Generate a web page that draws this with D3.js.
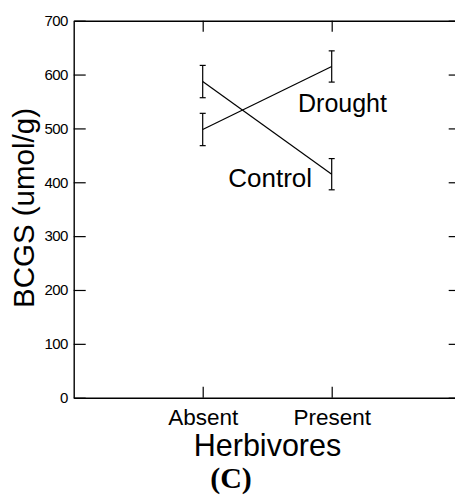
<!DOCTYPE html>
<html>
<head>
<meta charset="utf-8">
<script src="https://cdn.jsdelivr.net/npm/d3@7"></script>
<style>
  body { margin: 0; background: #fff; }
  svg { display: block; }
</style>
</head>
<body>
<div id="chart"></div>
<script>
// Data
const conditions = ['Absent', 'Present'];
const controlMeans = [587, 415];
const controlErr = [30, 29];
const droughtMeans = [498, 615];
const droughtErr = [30, 29];
const yTicks = [0, 100, 200, 300, 400, 500, 600, 700];

const W = 455, H = 497;
const sans = 'Arial, "Liberation Sans", sans-serif';

const svg = d3.select('#chart')
    .append('svg')
    .attr('width', W)
    .attr('height', H);

// x: category index 1..2 inside a 0..3 frame
const x = d3.scaleLinear().domain([0, 3]).range([73.7, 460.7]);
const y = d3.scaleLinear().domain([0, 700]).range([397.7, 20.7]);

const styleAxis = (g) => {
    g.select('.domain').attr('stroke', '#000').attr('stroke-width', 1.4);
    g.selectAll('line').attr('stroke', '#000').attr('stroke-width', 1.2);
};

// left axis, ticks inside
const yAxisG = svg.append('g')
    .attr('transform', `translate(${x(0)},0)`)
    .call(d3.axisLeft(y).tickValues(yTicks).tickSize(-12).tickSizeOuter(0).tickPadding(6));
styleAxis(yAxisG);
yAxisG.selectAll('text')
    .style('font-family', sans)
    .style('font-size', '15px')
    .style('letter-spacing', '-0.6px')
    .attr('fill', '#000');

// right axis, no labels
const rAxisG = svg.append('g')
    .attr('transform', `translate(${x(3)},0)`)
    .call(d3.axisRight(y).tickValues(yTicks).tickSize(-12).tickSizeOuter(0).tickFormat(''));
styleAxis(rAxisG);

// bottom axis
const xAxisG = svg.append('g')
    .attr('transform', `translate(0,${y(0)})`)
    .call(d3.axisBottom(x).tickValues([1, 2]).tickSize(-11).tickSizeOuter(0).tickPadding(11.5)
        .tickFormat((d) => conditions[d - 1]));
styleAxis(xAxisG);
xAxisG.selectAll('text')
    .style('font-family', sans)
    .style('font-size', '22.5px')
    .attr('fill', '#000');

// top axis, no labels
const tAxisG = svg.append('g')
    .attr('transform', `translate(0,${y(700)})`)
    .call(d3.axisTop(x).tickValues([1, 2]).tickSize(-11).tickSizeOuter(0).tickFormat(''));
styleAxis(tAxisG);

// series
const series = [
    { name: 'Control', means: controlMeans, err: controlErr },
    { name: 'Drought', means: droughtMeans, err: droughtErr },
];

const line = d3.line()
    .x((d, i) => x(i + 1))
    .y((d) => y(d));

series.forEach((s) => {
    svg.append('path')
        .datum(s.means)
        .attr('d', line)
        .attr('fill', 'none')
        .attr('stroke', '#000')
        .attr('stroke-width', 1.2);

    s.means.forEach((m, i) => {
        const cx = x(i + 1);
        const lo = y(m - s.err[i]);
        const hi = y(m + s.err[i]);
        svg.append('line')
            .attr('x1', cx).attr('x2', cx)
            .attr('y1', lo).attr('y2', hi)
            .attr('stroke', '#000').attr('stroke-width', 1.2);
        [lo, hi].forEach((yy) => {
            svg.append('line')
                .attr('x1', cx - 3).attr('x2', cx + 3)
                .attr('y1', yy).attr('y2', yy)
                .attr('stroke', '#000').attr('stroke-width', 1.2);
        });
    });
});

// series labels
svg.append('text')
    .attr('x', x(1.739))
    .attr('y', y(530))
    .style('font-family', sans)
    .style('font-size', '25px')
    .attr('fill', '#000')
    .text('Drought');

svg.append('text')
    .attr('x', x(1.198))
    .attr('y', y(391))
    .style('font-family', sans)
    .style('font-size', '26px')
    .attr('fill', '#000')
    .text('Control');

// axis titles
svg.append('text')
    .attr('transform', 'rotate(-90)')
    .attr('x', -208)
    .attr('y', 34)
    .attr('text-anchor', 'middle')
    .style('font-family', sans)
    .style('font-size', '29.5px')
    .attr('fill', '#000')
    .text('BCGS (umol/g)');

svg.append('text')
    .attr('x', 267.5)
    .attr('y', 456)
    .attr('text-anchor', 'middle')
    .style('font-family', sans)
    .style('font-size', '30.5px')
    .attr('fill', '#000')
    .text('Herbivores');

svg.append('text')
    .attr('x', 231)
    .attr('y', 488)
    .attr('text-anchor', 'middle')
    .style('font-family', '"Times New Roman", "Liberation Serif", serif')
    .style('font-size', '30px')
    .style('font-weight', 'bold')
    .attr('fill', '#000')
    .text('(C)');
</script>
</body>
</html>
